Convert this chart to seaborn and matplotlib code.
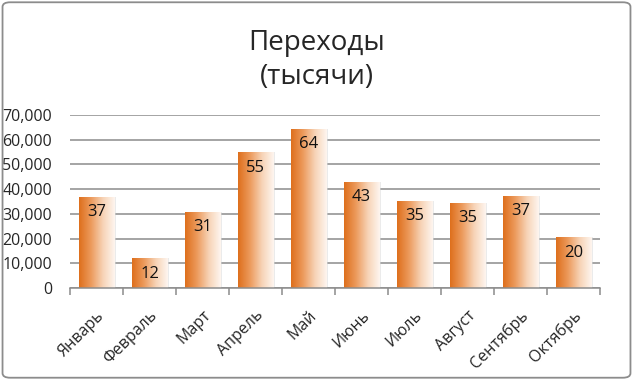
"""
Переходы (тысячи) -- monthly bar chart with gradient bars
"""

import numpy as np
import pandas as pd
import matplotlib
matplotlib.use("Agg")
import matplotlib.pyplot as plt
import seaborn as sns
from matplotlib.colors import LinearSegmentedColormap
from matplotlib.patches import FancyBboxPatch
from matplotlib.ticker import FuncFormatter

months = ["Январь", "Февраль", "Март", "Апрель", "Май",
          "Июнь", "Июль", "Август", "Сентябрь", "Октябрь"]
visits = [37000, 12000, 30900, 54900, 64400, 43000, 35200, 34500, 37200, 20500]
labels = ["37", "12", "31", "55", "64", "43", "35", "35", "37", "20"]

sns.set_theme(style="white")
plt.rcParams["font.family"] = ["Open Sans", "DejaVu Sans"]

df = pd.DataFrame({"month": months, "visits": visits})

fig = plt.figure(figsize=(6.33, 3.8), dpi=100)
ax = fig.add_axes([70 / 633, 1 - 288 / 380, 530 / 633, 173 / 380])

sns.barplot(data=df, x="month", y="visits", ax=ax, width=0.67,
            color="#E07626", saturation=1, edgecolor="none")

# gradient fill: dark orange on the left, fading to white on the right
grad = LinearSegmentedColormap.from_list(
    "bar", ["#DE6F1C", "#EC9A5C", "#F7D3B6", "#FEF6F0"])
img = np.linspace(0, 1, 256).reshape(1, -1)
for bar, lab in zip(ax.patches, labels):
    x0, w, h = bar.get_x(), bar.get_width(), bar.get_height()
    # soft shadow on the right side
    ax.bar(x0 + w / 2 + 0.03, h, width=w, color="#D8D8D8", alpha=0.5,
           align="center", zorder=1.5, linewidth=0)
    bar.set_facecolor("none")
    bar.set_zorder(2)
    im = ax.imshow(img, cmap=grad, aspect="auto",
                   extent=[x0, x0 + w, 0, h], zorder=2)
    im.set_clip_path(bar)
    ax.text(x0 + w / 2, h - 3000, lab, ha="center", va="top",
            fontsize=12, color="#111111", zorder=3)

ax.set_xlim(-0.5, len(months) - 0.5)
ax.set_ylim(0, 70000)
ax.set_yticks(range(0, 70001, 10000))
ax.yaxis.set_major_formatter(FuncFormatter(lambda v, p: f"{int(v):,}"))
ax.grid(axis="y", color="#8C8C8C", linewidth=1.1, zorder=0)
ax.set_axisbelow(True)

for side in ["top", "right", "left"]:
    ax.spines[side].set_visible(False)
ax.spines["bottom"].set_color("#8C8C8C")
ax.spines["bottom"].set_linewidth(1.1)

ax.set_xlabel("")
ax.set_ylabel("")
ax.set_xticks(np.arange(len(months)))
ax.set_xticklabels(months, rotation=45, ha="right", rotation_mode="anchor",
                   fontsize=11.5)
ax.tick_params(axis="x", length=0, pad=14)
ax.set_xticks(np.arange(-0.5, len(months)), minor=True)
ax.tick_params(axis="x", which="minor", length=5, color="#8C8C8C",
               width=1.1, direction="out", bottom=True)
ax.tick_params(axis="y", length=0, labelsize=11.5, pad=13)

fig.text(0.5, 1 - 60 / 380, "Переходы\n(тысячи)", ha="center", va="center",
         fontsize=20, linespacing=1.25)

border = FancyBboxPatch((0.004, 0.006), 0.992, 0.988,
                        boxstyle="round,pad=0,rounding_size=0.012",
                        transform=fig.transFigure, fill=False,
                        edgecolor="#8C8C8C", linewidth=1.3)
fig.patches.append(border)

plt.savefig("out.png", dpi=100)
plt.close()
